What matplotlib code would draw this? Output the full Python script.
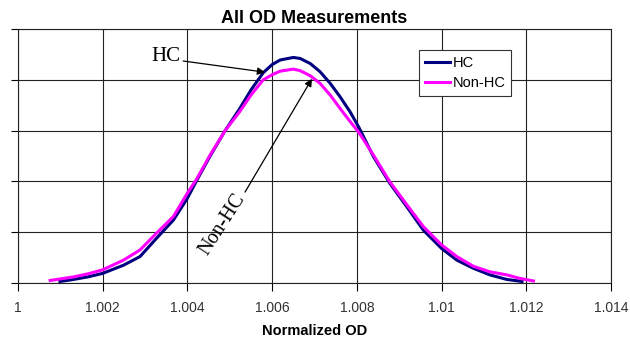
import matplotlib.pyplot as plt

# values (x = normalized OD, y = relative frequency)
hc_x = [1.00099, 1.00131, 1.00165, 1.00200, 1.00249, 1.00288, 1.00327, 1.00367, 1.00400,
        1.00422, 1.00455, 1.00489, 1.00524, 1.00550, 1.00579, 1.00600, 1.00619, 1.00650,
        1.00666, 1.00690, 1.00713, 1.00737, 1.00760, 1.00784, 1.00805, 1.00839, 1.00878,
        1.00918, 1.00957, 1.01000, 1.01036, 1.01075, 1.01114, 1.01154, 1.01190]
hc_y = [0.03, 0.07, 0.12, 0.19, 0.35, 0.52, 0.88, 1.24, 1.67,
        2.02, 2.52, 3.00, 3.44, 3.80, 4.14, 4.30, 4.39, 4.44,
        4.42, 4.32, 4.16, 3.93, 3.67, 3.37, 3.06, 2.49, 1.96,
        1.50, 1.04, 0.68, 0.45, 0.29, 0.16, 0.07, 0.03]

nonhc_x = [1.00076, 1.00131, 1.00165, 1.00200, 1.00249, 1.00288, 1.00327, 1.00367, 1.00400,
           1.00422, 1.00455, 1.00489, 1.00524, 1.00550, 1.00579, 1.00600, 1.00619, 1.00650,
           1.00666, 1.00690, 1.00713, 1.00737, 1.00760, 1.00784, 1.00805, 1.00839, 1.00878,
           1.00918, 1.00957, 1.01000, 1.01036, 1.01075, 1.01114, 1.01154, 1.01185, 1.01217]
nonhc_y = [0.05, 0.12, 0.18, 0.26, 0.45, 0.65, 0.98, 1.31, 1.77,
           2.05, 2.54, 3.00, 3.38, 3.70, 4.00, 4.10, 4.17, 4.21,
           4.18, 4.08, 3.93, 3.70, 3.44, 3.18, 2.96, 2.52, 1.99,
           1.54, 1.11, 0.75, 0.52, 0.33, 0.22, 0.16, 0.09, 0.04]

x_ticks = [1.0, 1.002, 1.004, 1.006, 1.008, 1.010, 1.012, 1.014]
x_labels = ["1", "1.002", "1.004", "1.006", "1.008", "1.01", "1.012", "1.014"]

plt.rcParams["font.family"] = ["Liberation Sans", "DejaVu Sans"]
serif = ["Liberation Serif", "DejaVu Serif"]

fig = plt.figure(figsize=(6.3, 3.37), dpi=100)
ax = fig.add_axes([18 / 630, 54 / 337, 593 / 630, 254 / 337])

ax.plot(hc_x, hc_y, color="#000080", lw=2.2, label="HC", zorder=3)
ax.plot(nonhc_x, nonhc_y, color="#FF00FF", lw=2.2, label="Non-HC", zorder=4)

ax.set_xlim(1.0, 1.014)
ax.set_ylim(0, 5)
ax.set_xticks(x_ticks)
ax.set_xticklabels(x_labels, color="#333333", fontsize=10)
ax.set_yticks([0, 1, 2, 3, 4, 5])
ax.set_yticklabels([])
ax.tick_params(axis="x", direction="out", length=6, pad=7, color="black")
ax.tick_params(axis="y", direction="out", length=5, color="black")
ax.grid(True, color="#222222", lw=0.8)
for s in ax.spines.values():
    s.set_color("#222222")
    s.set_linewidth(0.8)

ax.set_title("All OD Measurements", fontsize=13, fontweight="bold", pad=4)
ax.set_xlabel("Normalized OD", fontsize=10.5, fontweight="bold")
ax.xaxis.set_label_coords(0.5, -0.163)

leg = ax.legend(loc="upper left", bbox_to_anchor=(0.677, 0.918), fontsize=10.5,
                frameon=True, fancybox=False, handlelength=1.7, handletextpad=0.15,
                borderpad=0.4, labelspacing=0.45, borderaxespad=0)
leg.get_frame().set_edgecolor("#333333")
leg.get_frame().set_linewidth(0.8)
leg.get_frame().set_alpha(1)

arrow = dict(arrowstyle="-|>", color="black", lw=0.9, shrinkA=0, shrinkB=0,
             mutation_scale=11)

ax.text(1.0035, 4.45, "HC", fontsize=15, family=serif, ha="center", va="center")
ax.annotate("", xy=(1.00583, 4.15), xytext=(1.00390, 4.37), arrowprops=arrow)

ax.text(1.00482, 1.15, "Non-HC", fontsize=14.5, family=serif, ha="center", va="center",
        rotation=57)
ax.annotate("", xy=(1.00694, 4.02), xytext=(1.00536, 1.79), arrowprops=arrow)

fig.savefig("out.png", dpi=100)
